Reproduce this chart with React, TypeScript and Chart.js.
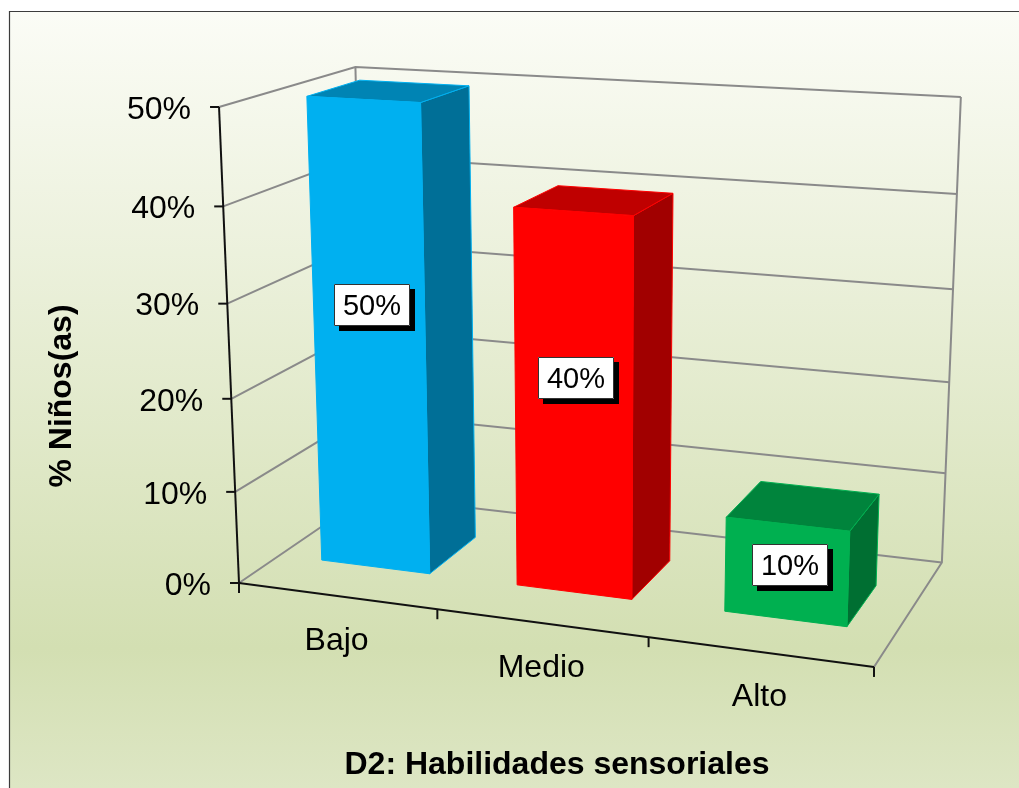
import React, { useEffect, useRef } from "react";
import { Chart, registerables } from "chart.js";

Chart.register(...registerables);

const categories = ["Bajo", "Medio", "Alto"];
const values = [50, 40, 10];
const barColors = ["#00B0F0", "#FF0000", "#00B050"];
const yTicks = [0, 10, 20, 30, 40, 50];
const xAxisTitle = "D2: Habilidades sensoriales";
const yAxisTitle = "% Niños(as)";

const FONT = '"Liberation Sans", Arial, sans-serif';
const GRID = "#8a8a8a";
const AXIS = "#111111";
const BAR_Z_FRONT = 0.3;
const BAR_Z_BACK = 0.7;

// Camera: homogeneous projection of the unit plot box onto the canvas.
function project(x: number, y: number, z: number): [number, number] {
  const w = 1 - 0.0914 * x - 0.0531 * y + 0.115 * z;
  return [
    (239 + 555.1 * x - 31.6 * y + 170 * z) / w,
    (583 + 23.0 * x - 481.7 * y - 30.2 * z) / w,
  ];
}

function shade(hex: string, f: number): string {
  const n = parseInt(hex.slice(1), 16);
  const c = [(n >> 16) & 255, (n >> 8) & 255, n & 255].map((v) => Math.round(v * f));
  return `rgb(${c[0]},${c[1]},${c[2]})`;
}

function line(ctx: CanvasRenderingContext2D, pts: [number, number][], color: string, width: number) {
  ctx.beginPath();
  pts.forEach((p, i) => (i ? ctx.lineTo(p[0], p[1]) : ctx.moveTo(p[0], p[1])));
  ctx.strokeStyle = color;
  ctx.lineWidth = width;
  ctx.stroke();
}

function face(ctx: CanvasRenderingContext2D, pts: [number, number][], fill: string, edge: string) {
  ctx.beginPath();
  pts.forEach((p, i) => (i ? ctx.lineTo(p[0], p[1]) : ctx.moveTo(p[0], p[1])));
  ctx.closePath();
  ctx.fillStyle = fill;
  ctx.fill();
  ctx.strokeStyle = edge;
  ctx.lineWidth = 1;
  ctx.lineJoin = "round";
  ctx.stroke();
}

const scene3d = {
  id: "scene3d",
  beforeDraw(chart: any) {
    const { ctx, width, height } = chart;
    ctx.save();
    ctx.fillStyle = "#ffffff";
    ctx.fillRect(0, 0, width, height);
    const g = ctx.createLinearGradient(0, 12, 0, height);
    g.addColorStop(0, "#fbfcf6");
    g.addColorStop(0.82, "#d3dfb2");
    g.addColorStop(1, "#dde6c4");
    ctx.fillStyle = g;
    ctx.fillRect(10, 12, width - 10, height - 12);
    line(ctx, [[9.5, height], [9.5, 11.5], [width, 11.5]], "#3c3c3c", 1.2);
    ctx.restore();
  },
  beforeDatasetsDraw(chart: any) {
    const { ctx, chartArea: a, scales } = chart;
    const fx = (px: number) => (px - a.left) / (a.right - a.left);
    const fy = (py: number) => (a.bottom - py) / (a.bottom - a.top);
    ctx.save();

    // walls and floor
    yTicks.forEach((t) => {
      const y = fy(scales.y.getPixelForValue(t));
      line(ctx, [project(0, y, 0), project(0, y, 1), project(1, y, 1)], GRID, 2);
    });
    line(ctx, [project(0, 0, 1), project(0, 1, 1)], GRID, 2);
    line(ctx, [project(1, 0, 0), project(1, 0, 1), project(1, 1, 1)], GRID, 2);

    // axes
    line(ctx, [project(0, 0, 0), project(0, 1, 0)], AXIS, 2);
    line(ctx, [project(0, 0, 0), project(1, 0, 0)], AXIS, 2);

    ctx.fillStyle = "#000000";
    ctx.font = `32px ${FONT}`;
    ctx.textAlign = "right";
    ctx.textBaseline = "middle";
    yTicks.forEach((t) => {
      const [px, py] = project(0, fy(scales.y.getPixelForValue(t)), 0);
      line(ctx, [[px - 9, py], [px, py]], AXIS, 2);
      ctx.fillText(`${t}%`, px - 28, py + 3);
    });

    for (let i = 0; i <= categories.length; i++) {
      const [px, py] = project(i / categories.length, 0, 0);
      line(ctx, [[px, py], [px, py + 10]], AXIS, 2);
    }
    ctx.textAlign = "center";
    ctx.textBaseline = "alphabetic";
    categories.forEach((c, i) => {
      const [px, py] = project(fx(scales.x.getPixelForValue(i)), 0, 0);
      ctx.fillText(c, px, py + 54);
    });

    // bars
    const meta = chart.getDatasetMeta(0);
    const colors: string[] = chart.data.datasets[0].backgroundColor;
    meta.data.forEach((bar: any, i: number) => {
      const x0 = fx(bar.x - bar.width / 2);
      const x1 = fx(bar.x + bar.width / 2);
      const y0 = fy(bar.base);
      const y1 = fy(bar.y);
      const f = BAR_Z_FRONT;
      const b = BAR_Z_BACK;
      const col = colors[i];
      face(ctx, [project(x1, y0, f), project(x1, y0, b), project(x1, y1, b), project(x1, y1, f)], shade(col, 0.63), col);
      face(ctx, [project(x0, y1, f), project(x1, y1, f), project(x1, y1, b), project(x0, y1, b)], shade(col, 0.75), col);
      face(ctx, [project(x0, y0, f), project(x1, y0, f), project(x1, y1, f), project(x0, y1, f)], col, col);
    });

    // data labels
    ctx.font = `29px ${FONT}`;
    ctx.textAlign = "center";
    ctx.textBaseline = "middle";
    meta.data.forEach((bar: any, i: number) => {
      const [cx0, cy] = project(fx(bar.x), fy(bar.y) * 0.5725, BAR_Z_FRONT);
      const cx = cx0 + 3;
      const bw = 76;
      const bh = 42;
      const l = Math.round(cx - bw / 2);
      const t = Math.round(cy - bh / 2);
      ctx.fillStyle = "#000000";
      ctx.fillRect(l + 5, t + 5, bw, bh);
      ctx.fillStyle = "#ffffff";
      ctx.fillRect(l, t, bw, bh);
      ctx.strokeStyle = "#333333";
      ctx.lineWidth = 1;
      ctx.strokeRect(l + 0.5, t + 0.5, bw - 1, bh - 1);
      ctx.fillStyle = "#000000";
      ctx.fillText(`${values[i]}%`, l + bw / 2, t + bh / 2 + 2);
    });

    // axis titles
    ctx.fillStyle = "#000000";
    ctx.font = `bold 32px ${FONT}`;
    ctx.textAlign = "center";
    ctx.textBaseline = "alphabetic";
    ctx.fillText(xAxisTitle, 557, 774);
    ctx.translate(71, 396);
    ctx.rotate(-Math.PI / 2);
    ctx.fillText(yAxisTitle, 0, 0);
    ctx.restore();
    return false;
  },
};

export default function App() {
  const ref = useRef<HTMLCanvasElement>(null);
  useEffect(() => {
    const chart = new Chart(ref.current as HTMLCanvasElement, {
      type: "bar",
      data: {
        labels: categories,
        datasets: [
          {
            data: values,
            backgroundColor: barColors,
            categoryPercentage: 1,
            barPercentage: 0.56,
          },
        ],
      },
      options: {
        animation: false,
        responsive: false,
        layout: { padding: 0 },
        plugins: { legend: { display: false }, tooltip: { enabled: false } },
        scales: {
          x: { display: false, type: "category" },
          y: { display: false, min: 0, max: 50 },
        },
      },
      plugins: [scene3d],
    } as any);
    return () => chart.destroy();
  }, []);
  return (
    <div style={{ position: "absolute", left: 0, top: 0, width: 1019, height: 788, overflow: "hidden" }}>
      <canvas ref={ref} width={1019} height={788} style={{ display: "block" }} />
    </div>
  );
}
